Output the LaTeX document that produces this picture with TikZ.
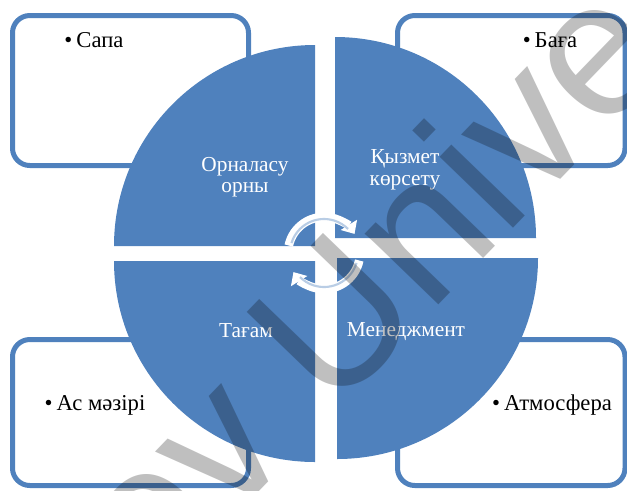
\documentclass[tikz,border=0pt]{standalone}
\usepackage{fontspec}
\setmainfont{Liberation Serif}
\newfontfamily\wmfont{Liberation Sans}
\usetikzlibrary{arrows.meta}
\definecolor{accentblue}{RGB}{79,129,189}
\definecolor{ringblue}{RGB}{185,205,229}
\tikzset{
	cornerbox/.style={draw=accentblue, line width=3.75pt, rounded corners=13pt, fill=white},
	quadrant/.style={fill=accentblue},
	quadlabel/.style={text=white, font=\fontsize{16}{16.2}\selectfont, align=center, inner sep=0pt},
	bulletlabel/.style={text=black, font=\fontsize{17}{20}\selectfont, inner sep=0pt, anchor=base},
	ringarrow/.style={white, line width=6.5pt, -{Triangle[width=14pt,length=8pt]}},
	ringline/.style={ringblue, line width=1.6pt},
	wmark/.style={font=\wmfont\fontsize{145}{145}\selectfont, text=black, text opacity=0.25, inner sep=0pt},
}

\begin{document}
\begin{tikzpicture}[x=0.75pt,y=0.75pt]
		%%%%% START %%%%%
		\useasboundingbox (0,0) rectangle (627,-490);
		\clip (0,0) rectangle (627,-490);
		
		% corner boxes
		\draw[cornerbox] (12.5,-15.5) rectangle (248.5,-165.5);
		\draw[cornerbox] (397.5,-15.5) rectangle (625,-165.5);
		\draw[cornerbox] (12.5,-339.5) rectangle (248.5,-485.5);
		\draw[cornerbox] (397.5,-339.5) rectangle (625,-485.5);
		
		\node[bulletlabel] (quality) at (94,-47) {\textbullet\hspace{3pt}Сапа};
		\node[bulletlabel] (price) at (550,-47) {\textbullet\hspace{3pt}Баға};
		\node[bulletlabel] (menu) at (95,-410) {\textbullet\hspace{3pt}Ас мәзірі};
		\node[bulletlabel] (mood) at (552,-410) {\textbullet\hspace{3pt}Атмосфера};
		
		% four quarters
		\fill[quadrant] (315,-246) -- ++(-201,0) arc[start angle=180, end angle=90, radius=201] -- cycle;
		\fill[quadrant] (335,-238) -- ++(0,201) arc[start angle=90, end angle=0, radius=201] -- cycle;
		\fill[quadrant] (315,-261) -- ++(-201,0) arc[start angle=180, end angle=270, radius=201] -- cycle;
		\fill[quadrant] (337,-258) -- ++(201,0) arc[start angle=0, end angle=-90, radius=201] -- cycle;
		
		\node[quadlabel] (place) at (245,-177) {Орналасу\\орны};
		\node[quadlabel] (service) at (405,-170) {Қызмет\\көрсету};
		\node[quadlabel, anchor=base] (food) at (246,-337) {Тағам};
		\node[quadlabel, anchor=base] (manage) at (406,-336) {Менеджмент};
		
		% cycle arrows in the middle
		\coordinate (ring) at (324,-253);
		\draw[ringarrow] (ring) ++(168:36) arc[start angle=168, end angle=32, radius=36];
		\draw[ringarrow] (ring) ++(-12:36) arc[start angle=-12, end angle=-148, radius=36];
		\draw[ringline] (ring) ++(163:34) arc[start angle=163, end angle=45, radius=34];
		\draw[ringline] (ring) ++(-17:34) arc[start angle=-17, end angle=-135, radius=34];
		
		% watermark
		\node[wmark, rotate=46, anchor=base west] (wm) at (333,-415) {\llap{Nazarbayev\ }University};
		%%%%% END %%%%%
\end{tikzpicture}
\end{document}
